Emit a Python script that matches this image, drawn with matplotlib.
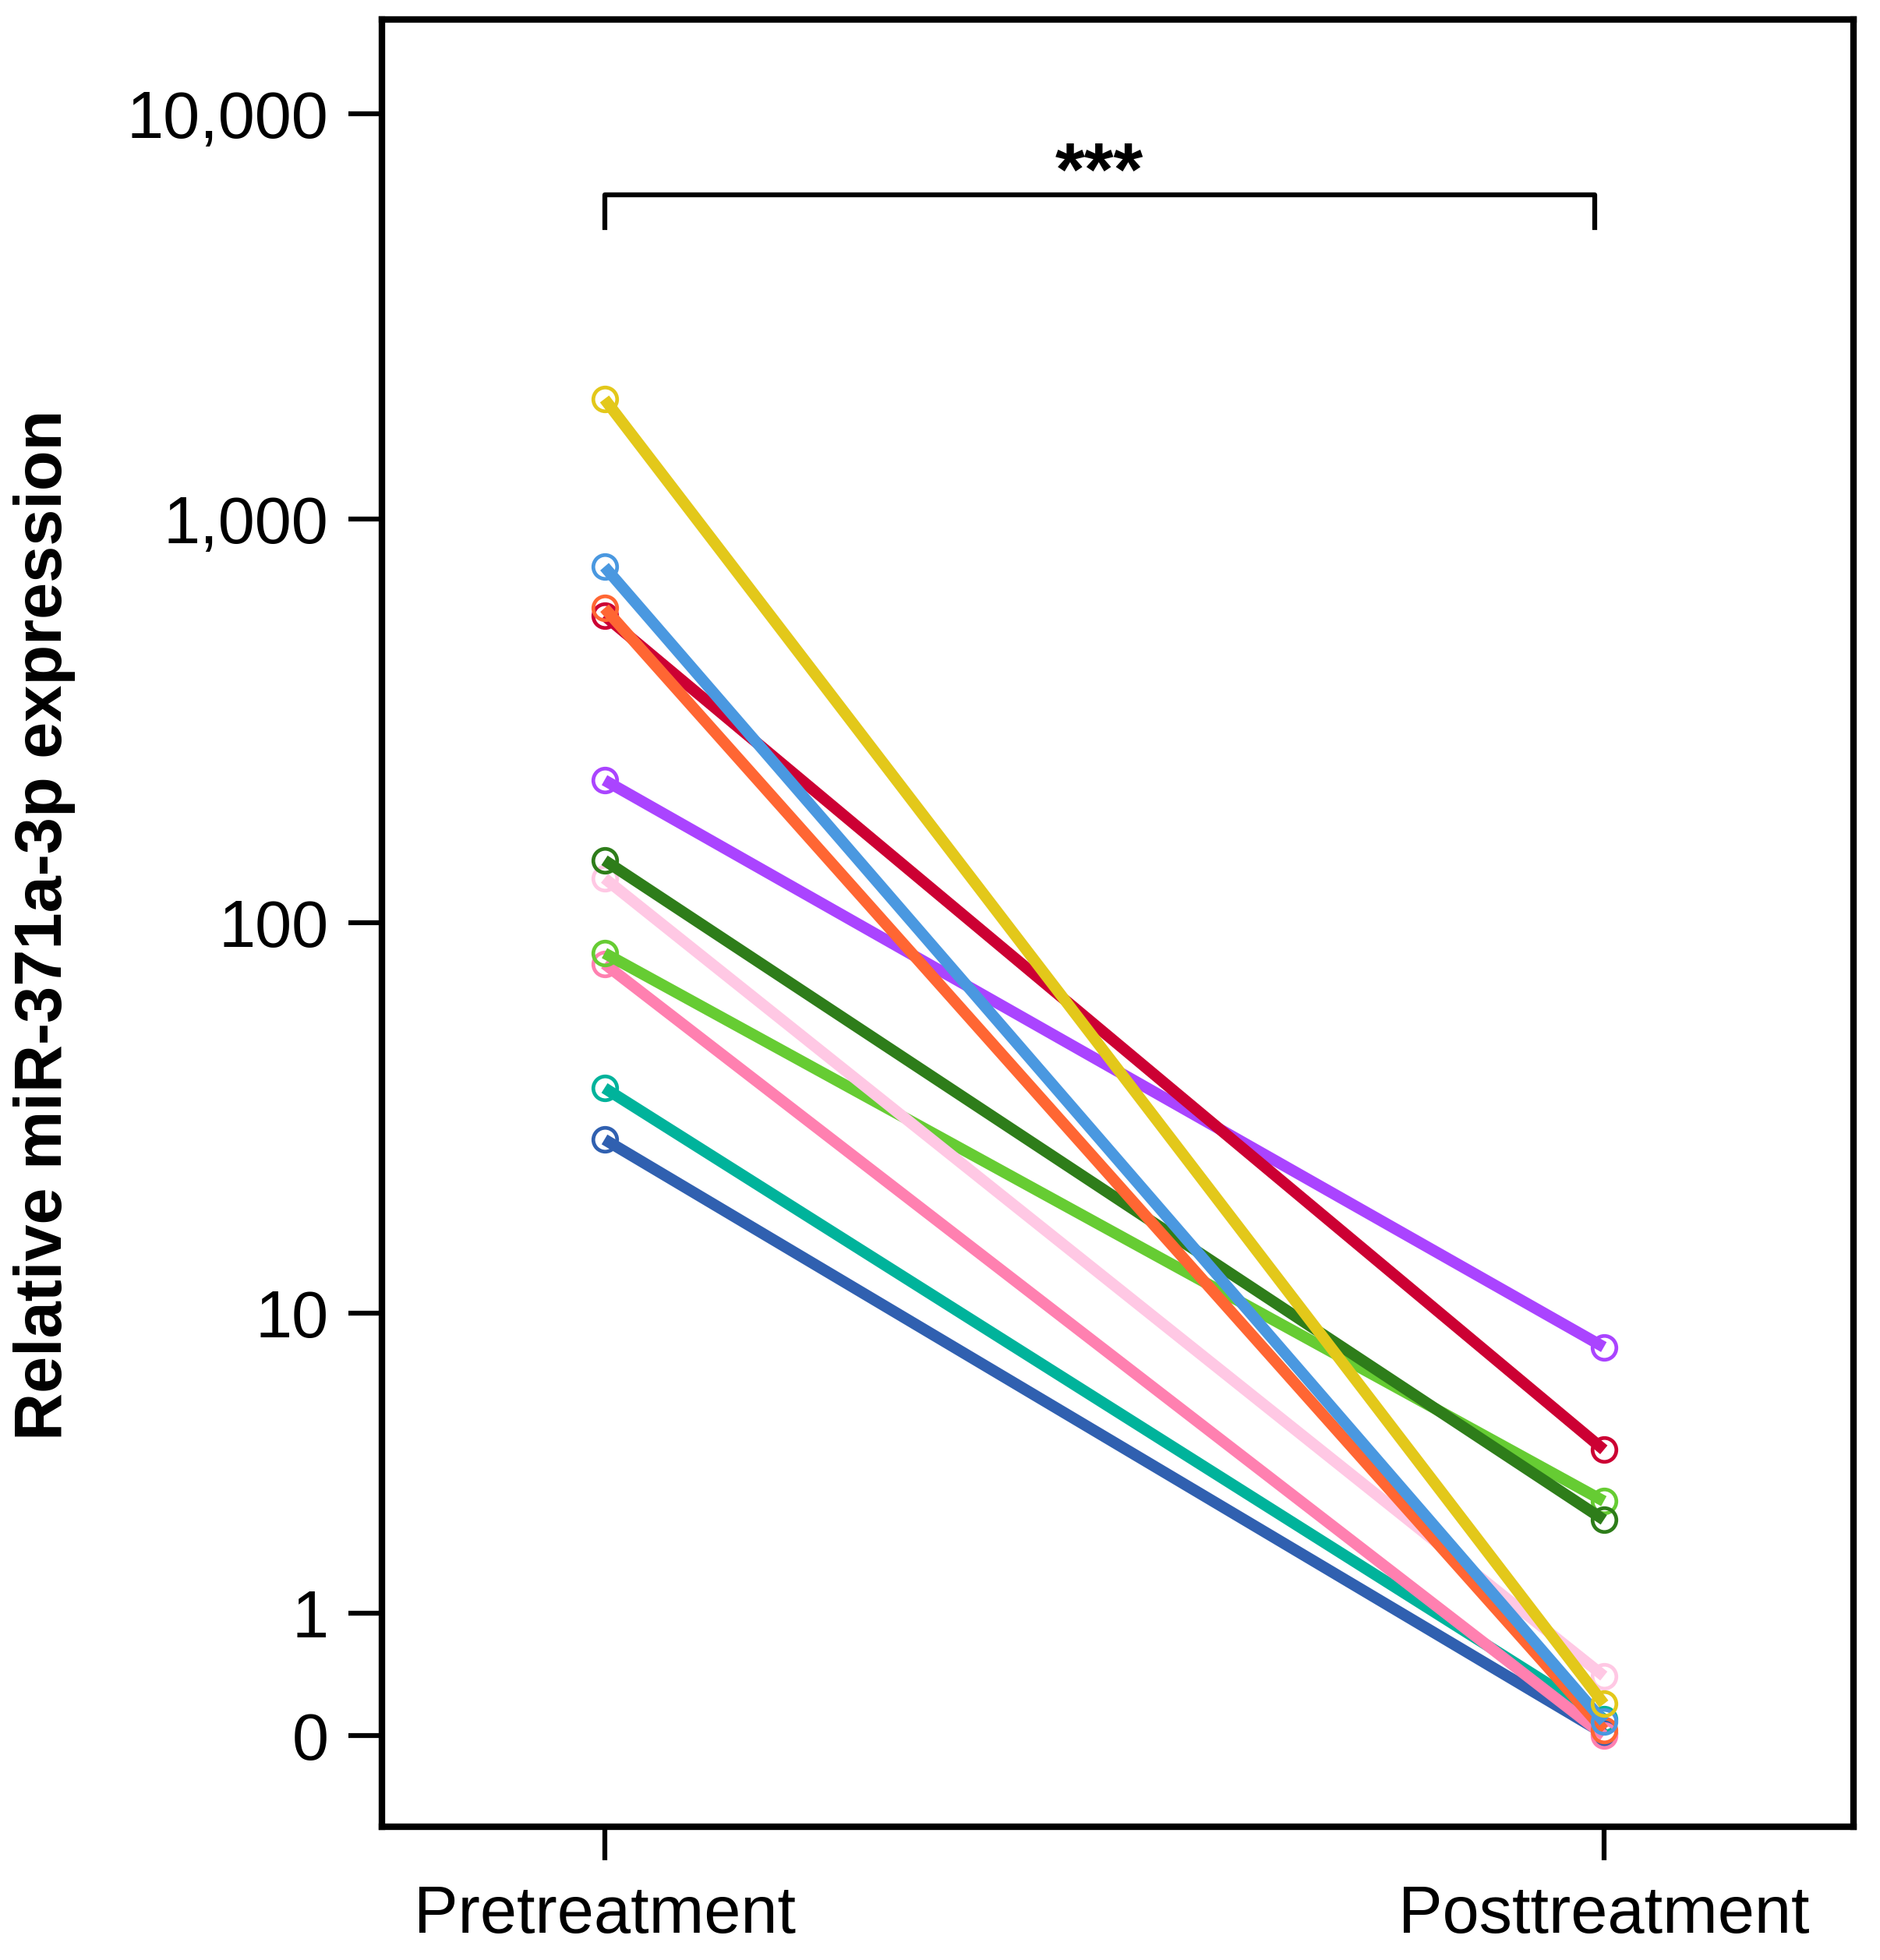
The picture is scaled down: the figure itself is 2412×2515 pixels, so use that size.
import numpy as np
import matplotlib.pyplot as plt

plt.rcParams['font.family'] = ['Liberation Sans', 'DejaVu Sans']

# data (relative expression, pre vs post)
groups = ["Pretreatment", "Posttreatment"]
pre = [28.5, 38.5, 79, 84, 129, 143, 226, 577, 602, 762, 1977]
post = [0.01, 0.097, 0.0, 2.78, 0.40, 2.40, 8.07, 4.06, 0.03, 0.08, 0.195]
colors = ["#3060B0", "#00B39B", "#FF80B0", "#66CC33", "#FFC8E4", "#2E7D1A",
          "#AA44FF", "#CC0033", "#FF6633", "#4A98E0", "#E3C81A"]
ytick_vals = [0, 1, 10, 100, 1000, 10000]
ytick_labels = ["0", "1", "10", "100", "1,000", "10,000"]
sig_label = "***"

fig = plt.figure(figsize=(24.12, 25.15), dpi=100)
ax = fig.add_axes([0.203, 0.068, 0.783, 0.922])

# axis is log10(y + 1)
ax.set_yscale('function', functions=(lambda y: np.log10(np.clip(y + 1, 1e-9, None)),
                                     lambda t: 10 ** t - 1))

x = np.arange(len(groups))
for a, b, c in zip(pre, post, colors):
    ax.plot(x, [a, b], color=c, lw=10.5, marker='o', ms=22, mfc='none',
            mec=c, mew=3.4, solid_capstyle='butt')

# significance bracket
ax.plot([0, 0, 0.991, 0.991], [5236, 6300, 6300, 5236], color='black', lw=4.5)
ax.text(0.495, 6300, sig_label, ha='center', va='baseline', fontsize=70,
        fontweight='bold')

ax.set_xlim(-0.223, 1.25)
ax.set_ylim(-0.405, 17060)
ax.set_xticks(x)
ax.set_xticklabels(groups)
ax.set_yticks(ytick_vals)
ax.set_yticklabels(ytick_labels)
ax.minorticks_off()

for s in ax.spines.values():
    s.set_linewidth(6)
ax.tick_params(axis='both', which='major', direction='out', length=31, width=4.5,
               labelsize=61, top=False, right=False)
ax.tick_params(axis='y', pad=18)
ax.tick_params(axis='x', pad=22)

fig.text(0.0235, 0.528, "Relative miR-371a-3p expression", rotation=90,
         ha='center', va='center', fontsize=61, fontweight='bold')

plt.savefig("out.png", dpi=100)
plt.close()
